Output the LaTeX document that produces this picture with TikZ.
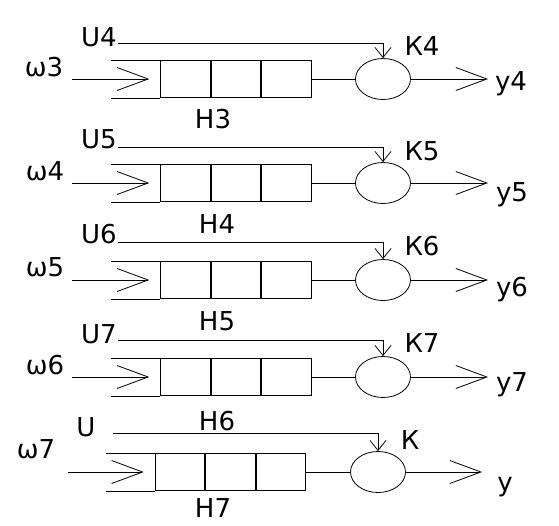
\documentclass[tikz,border=0pt]{standalone}
\usepackage{fontspec}
\setmainfont{DejaVu Sans}
\usepackage{tikz}
\usetikzlibrary{shapes.geometric, arrows.meta, positioning}
\tikzstyle{cell}  = [rectangle, draw, minimum width=49.7pt, minimum height=37pt,
                     inner sep=0pt]
\tikzstyle{gate}  = [ellipse, draw, minimum width=55pt, minimum height=41pt,
                     inner sep=0pt]
\tikzstyle{feed}  = [-{Straight Barb[length=31pt, width=23pt]}]
\tikzstyle{ctrl}  = [-{Straight Barb[length=10pt, width=16pt]}]
\tikzstyle{lbl}   = [font=\fontsize{26}{30}\selectfont, inner sep=0pt]

\begin{document}
\begin{tikzpicture}[x=1pt, y=-1pt, line width=0.8pt]
  \useasboundingbox (0,0) rectangle (559,525);

  % ---- row 3 ----
  \node[cell] (c31) at (185.5,79) {};
  \node[cell, right=0pt of c31] (c32) {};
  \node[cell, right=0pt of c32] (c33) {};
  \node[gate] (k3) at (383,79) {};
  \coordinate (m3) at (111,79);
  \coordinate (w3) at (72,79);
  \coordinate (o3) at (488,79);
  \coordinate (ul3) at (118,43);
  \draw (c31.north west) -- (c31.north west -| m3);
  \draw (c31.south west) -- (c31.south west -| m3);
  \draw[feed] (w3) -- ([xshift=-11pt]c31.west);
  \draw (c33.east) -- (k3);
  \draw[feed] (k3) -- (o3);
  \draw[ctrl] (ul3) -| (k3.north);
  \node[lbl] (w3l) at (44,67) {ω3};
  \node[lbl] (u3l) at (99,37) {U4};
  \node[lbl] (k3l) at (422,46) {К4};
  \node[lbl] (y3l) at (511,84) {y4};
  \node[lbl] (h3l) at (213,119) {Н3};

  % ---- row 4 ----
  \node[cell] (c41) at (185.5,183) {};
  \node[cell, right=0pt of c41] (c42) {};
  \node[cell, right=0pt of c42] (c43) {};
  \node[gate] (k4) at (383,183) {};
  \coordinate (m4) at (111,183);
  \coordinate (w4) at (72,183);
  \coordinate (o4) at (488,183);
  \coordinate (ul4) at (118,147);
  \draw (c41.north west) -- (c41.north west -| m4);
  \draw (c41.south west) -- (c41.south west -| m4);
  \draw[feed] (w4) -- ([xshift=-11pt]c41.west);
  \draw (c43.east) -- (k4);
  \draw[feed] (k4) -- (o4);
  \draw[ctrl] (ul4) -| (k4.north);
  \node[lbl] (w4l) at (45,171) {ω4};
  \node[lbl] (u4l) at (99,139) {U5};
  \node[lbl] (k4l) at (422,151) {К5};
  \node[lbl] (y4l) at (512,195) {y5};
  \node[lbl] (h4l) at (217,224) {Н4};

  % ---- row 5 ----
  \node[cell] (c51) at (185.5,280) {};
  \node[cell, right=0pt of c51] (c52) {};
  \node[cell, right=0pt of c52] (c53) {};
  \node[gate] (k5) at (383,280) {};
  \coordinate (m5) at (111,280);
  \coordinate (w5) at (72,280);
  \coordinate (o5) at (488,280);
  \coordinate (ul5) at (118,242);
  \draw (c51.north west) -- (c51.north west -| m5);
  \draw (c51.south west) -- (c51.south west -| m5);
  \draw[feed] (w5) -- ([xshift=-11pt]c51.west);
  \draw (c53.east) -- (k5);
  \draw[feed] (k5) -- (o5);
  \draw[ctrl] (ul5) -| (k5.north);
  \node[lbl] (w5l) at (45,267) {ω5};
  \node[lbl] (u5l) at (99,234) {U6};
  \node[lbl] (k5l) at (422,246) {К6};
  \node[lbl] (y5l) at (512,290) {y6};
  \node[lbl] (h5l) at (217,321) {Н5};

  % ---- row 6 ----
  \node[cell] (c61) at (185.5,377) {};
  \node[cell, right=0pt of c61] (c62) {};
  \node[cell, right=0pt of c62] (c63) {};
  \node[gate] (k6) at (383,377) {};
  \coordinate (m6) at (111,377);
  \coordinate (w6) at (72,377);
  \coordinate (o6) at (488,377);
  \coordinate (ul6) at (118,340);
  \draw (c61.north west) -- (c61.north west -| m6);
  \draw (c61.south west) -- (c61.south west -| m6);
  \draw[feed] (w6) -- ([xshift=-11pt]c61.west);
  \draw (c63.east) -- (k6);
  \draw[feed] (k6) -- (o6);
  \draw[ctrl] (ul6) -| (k6.north);
  \node[lbl] (w6l) at (45,365) {ω6};
  \node[lbl] (u6l) at (99,334) {U7};
  \node[lbl] (k6l) at (422,343) {К7};
  \node[lbl] (y6l) at (512,385) {y7};
  \node[lbl] (h6l) at (217,421) {Н6};

  % ---- row 7 ----
  \node[cell] (c71) at (180,472) {};
  \node[cell, right=0pt of c71] (c72) {};
  \node[cell, right=0pt of c72] (c73) {};
  \node[gate] (k7) at (378,472) {};
  \coordinate (m7) at (106,472);
  \coordinate (w7) at (68,472);
  \coordinate (o7) at (482,472);
  \coordinate (ul7) at (113,433);
  \draw (c71.north west) -- (c71.north west -| m7);
  \draw (c71.south west) -- (c71.south west -| m7);
  \draw[feed] (w7) -- ([xshift=-11pt]c71.west);
  \draw (c73.east) -- (k7);
  \draw[feed] (k7) -- (o7);
  \draw[ctrl] (ul7) -| (k7.north);
  \node[lbl] (w7l) at (36,449) {ω7};
  \node[lbl] (u7l) at (86,427) {U};
  \node[lbl] (k7l) at (410,440) {К};
  \node[lbl] (y7l) at (505,487) {y};
  \node[lbl] (h7l) at (213,508) {Н7};
\end{tikzpicture}
\end{document}
